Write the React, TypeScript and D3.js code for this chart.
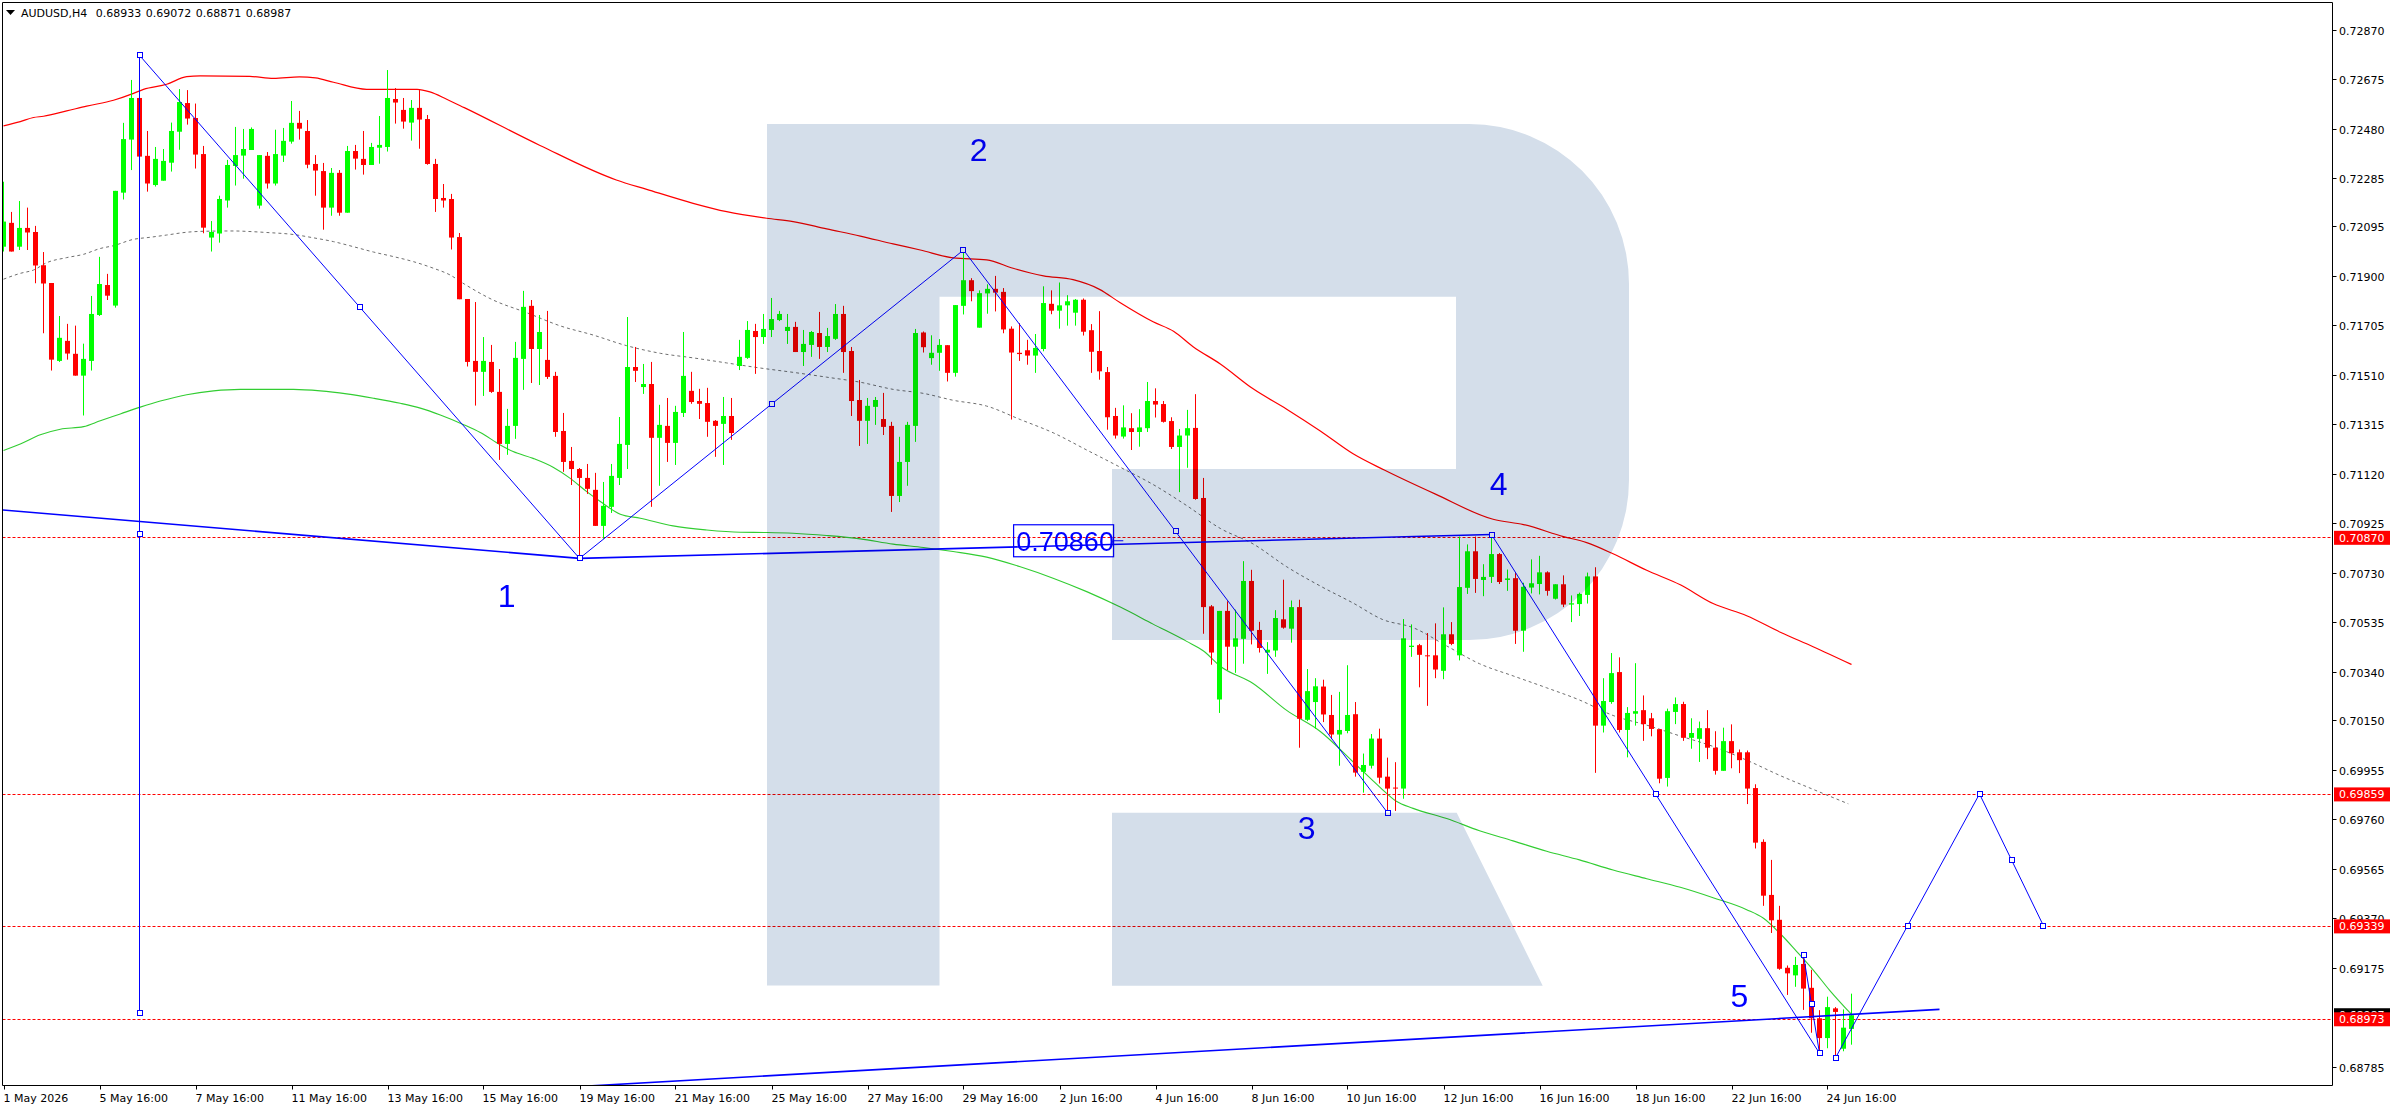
import React from "react";
import * as d3 from "d3";

// ---------- DATA ----------
const symbolTitle = "AUDUSD,H4";
const headerOHLC = ["0.68933", "0.69072", "0.68871", "0.68987"];
const currentPrice = 0.68987;

const opens = [
0.72015,0.72109,0.72015,0.72089,0.72073,0.71942,0.71872,0.71565,0.71644,0.71593,
0.71507,0.71565,0.71746,0.71864,0.71783,0.72228,0.72437,0.72601,0.72373,0.72258,
0.72275,0.72346,0.72468,0.72581,0.72522,0.72380,0.72051,0.72067,0.72197,0.72333,
0.72374,0.72396,0.72177,0.72373,0.72264,0.72374,0.72429,0.72503,0.72471,0.72341,
0.72313,0.72169,0.72306,0.72149,0.72392,0.72361,0.72337,0.72405,0.72408,0.72597,
0.72554,0.72504,0.72562,0.72518,0.72341,0.72207,0.72203,0.72053,0.71809,0.71565,
0.71522,0.71561,0.71443,0.71238,0.71309,0.71573,0.71782,0.71612,0.71569,0.71506,
0.71289,0.71171,0.71139,0.71104,0.71057,0.70915,0.70990,0.71104,0.71234,0.71541,
0.71462,0.71474,0.71262,0.71309,0.71242,0.71360,0.71447,0.71407,0.71399,0.71329,
0.71317,0.71348,0.71545,0.71577,0.71683,0.71659,0.71687,0.71726,0.71683,0.71699,
0.71600,0.71628,0.71675,0.71620,0.71652,0.71750,0.71604,0.71411,0.71329,0.71384,
0.71336,0.71309,0.71033,0.71167,0.71309,0.71677,0.71576,0.71597,0.71627,0.71518,
0.71782,0.71883,0.71696,0.71831,0.71849,0.71837,0.71692,0.71597,0.71607,0.71586,
0.71612,0.71790,0.71763,0.71784,0.71755,0.71806,0.71686,0.71604,0.71521,0.71348,
0.71267,0.71300,0.71285,0.71300,0.71407,0.71395,0.71328,0.71226,0.71271,0.71301,
0.71025,0.70598,0.70231,0.70580,0.70439,0.70470,0.70698,0.70505,0.70416,0.70424,
0.70547,0.70510,0.70595,0.70151,0.70221,0.70282,0.70170,0.70093,0.70107,0.70173,
0.69946,0.69970,0.70077,0.69927,0.69884,0.69880,0.70438,0.70445,0.70405,0.70405,
0.70344,0.70488,0.70405,0.70671,0.70815,0.70702,0.70714,0.70804,0.70702,0.70709,
0.70502,0.70672,0.70686,0.70732,0.70628,0.70685,0.70605,0.70607,0.70643,0.70716,
0.70128,0.70221,0.70339,0.70111,0.70175,0.70189,0.70157,0.70114,0.69922,0.70182,
0.70213,0.70080,0.70076,0.70118,0.70041,0.69950,0.70067,0.70023,0.70023,0.69882,
0.69670,0.69461,0.69363,0.69174,0.69144,0.69189,0.69095,0.68975,0.68897,0.69014,
0.68855,0.68933];

const highs = [
0.72271,0.72152,0.72195,0.72169,0.72097,0.71994,0.71872,0.71742,0.71711,0.71704,
0.71633,0.71821,0.71975,0.71908,0.72235,0.72503,0.72672,0.72601,0.72471,0.72408,
0.72400,0.72504,0.72636,0.72632,0.72579,0.72412,0.72116,0.72216,0.72357,0.72487,
0.72479,0.72485,0.72376,0.72388,0.72476,0.72483,0.72589,0.72550,0.72514,0.72376,
0.72345,0.72325,0.72317,0.72412,0.72416,0.72471,0.72424,0.72530,0.72711,0.72640,
0.72601,0.72593,0.72632,0.72534,0.72361,0.72262,0.72223,0.72069,0.71809,0.71797,
0.71659,0.71628,0.71533,0.71376,0.71640,0.71841,0.71805,0.71746,0.71762,0.71522,
0.71360,0.71226,0.71143,0.71159,0.71124,0.71088,0.71159,0.71344,0.71738,0.71620,
0.71553,0.71561,0.71392,0.71419,0.71388,0.71679,0.71522,0.71455,0.71459,0.71332,
0.71423,0.71419,0.71648,0.71722,0.71711,0.71750,0.71813,0.71762,0.71750,0.71719,
0.71687,0.71683,0.71758,0.71695,0.71789,0.71782,0.71620,0.71490,0.71419,0.71423,
0.71439,0.71325,0.71266,0.71325,0.71691,0.71681,0.71666,0.71651,0.71627,0.71785,
0.71998,0.71891,0.71843,0.71867,0.71900,0.71852,0.71701,0.71714,0.71648,0.71671,
0.71859,0.71843,0.71874,0.71824,0.71809,0.71811,0.71710,0.71761,0.71541,0.71380,
0.71390,0.71359,0.71375,0.71482,0.71457,0.71407,0.71343,0.71297,0.71372,0.71434,
0.71104,0.70603,0.70580,0.70618,0.70585,0.70776,0.70742,0.70537,0.70457,0.70583,
0.70703,0.70621,0.70624,0.70351,0.70315,0.70309,0.70249,0.70261,0.70366,0.70221,
0.70018,0.70095,0.70116,0.70002,0.69984,0.70548,0.70527,0.70450,0.70493,0.70531,
0.70594,0.70536,0.70873,0.70842,0.70873,0.70764,0.70881,0.70808,0.70743,0.70729,
0.70691,0.70783,0.70797,0.70736,0.70685,0.70720,0.70641,0.70652,0.70731,0.70752,
0.70315,0.70414,0.70397,0.70201,0.70374,0.70247,0.70178,0.70114,0.70195,0.70239,
0.70222,0.70157,0.70144,0.70189,0.70106,0.70120,0.70133,0.70034,0.70030,0.69897,
0.69680,0.69599,0.69418,0.69183,0.69217,0.69227,0.69166,0.69007,0.69060,0.69019,
0.69010,0.69072];

const lows = [
0.71996,0.71996,0.72002,0.72002,0.71871,0.71674,0.71527,0.71561,0.71570,0.71507,
0.71350,0.71527,0.71742,0.71805,0.71775,0.72201,0.72317,0.72370,0.72232,0.72252,
0.72275,0.72311,0.72397,0.72496,0.72323,0.72068,0.71996,0.72031,0.72169,0.72256,
0.72283,0.72396,0.72165,0.72244,0.72256,0.72349,0.72421,0.72437,0.72324,0.72216,
0.72082,0.72137,0.72137,0.72149,0.72319,0.72299,0.72337,0.72342,0.72390,0.72500,
0.72480,0.72433,0.72401,0.72338,0.72152,0.72169,0.72004,0.71808,0.71543,0.71389,
0.71427,0.71439,0.71175,0.71195,0.71258,0.71451,0.71478,0.71470,0.71494,0.71266,
0.71128,0.71076,0.70789,0.71041,0.70915,0.70864,0.70966,0.71076,0.71139,0.71482,
0.71435,0.70990,0.71073,0.71167,0.71155,0.71344,0.71396,0.71336,0.71266,0.71187,
0.71155,0.71254,0.71529,0.71573,0.71514,0.71632,0.71659,0.71722,0.71632,0.71600,
0.71545,0.71581,0.71573,0.71600,0.71648,0.71518,0.71348,0.71230,0.71238,0.71313,
0.71273,0.70970,0.71009,0.71073,0.71246,0.71598,0.71550,0.71526,0.71484,0.71503,
0.71748,0.71800,0.71696,0.71751,0.71760,0.71674,0.71334,0.71565,0.71550,0.71518,
0.71603,0.71749,0.71692,0.71704,0.71704,0.71665,0.71518,0.71491,0.71294,0.71259,
0.71259,0.71214,0.71227,0.71285,0.71342,0.71322,0.71218,0.71048,0.71144,0.71018,
0.70490,0.70368,0.70178,0.70347,0.70336,0.70372,0.70448,0.70416,0.70332,0.70399,
0.70510,0.70455,0.70041,0.70146,0.70116,0.70142,0.70075,0.69970,0.70098,0.69927,
0.69864,0.69959,0.69900,0.69792,0.69792,0.69840,0.70399,0.70279,0.70206,0.70315,
0.70311,0.70445,0.70385,0.70647,0.70651,0.70638,0.70690,0.70686,0.70659,0.70450,
0.70419,0.70649,0.70645,0.70640,0.70625,0.70595,0.70536,0.70560,0.70609,0.69942,
0.70101,0.70214,0.70101,0.70003,0.70128,0.70068,0.70086,0.69901,0.69888,0.70134,
0.70068,0.70037,0.69985,0.69996,0.69935,0.69950,0.69960,0.69941,0.69819,0.69644,
0.69418,0.69311,0.69166,0.69067,0.69099,0.69008,0.68918,0.68843,0.68857,0.68816,
0.68845,0.68871];

const closes = [
0.72114,0.71996,0.72089,0.72071,0.71941,0.71870,0.71570,0.71656,0.71594,0.71507,
0.71573,0.71750,0.71868,0.71822,0.72235,0.72439,0.72601,0.72370,0.72264,0.72361,
0.72353,0.72471,0.72585,0.72520,0.72378,0.72090,0.72073,0.72203,0.72337,0.72376,
0.72400,0.72479,0.72376,0.72264,0.72380,0.72432,0.72503,0.72480,0.72338,0.72315,
0.72169,0.72306,0.72149,0.72392,0.72362,0.72337,0.72408,0.72416,0.72601,0.72583,
0.72508,0.72562,0.72516,0.72341,0.72203,0.72197,0.72051,0.71808,0.71561,0.71522,
0.71565,0.71443,0.71238,0.71309,0.71577,0.71778,0.71612,0.71679,0.71502,0.71285,
0.71167,0.71139,0.71104,0.71061,0.70915,0.70994,0.71112,0.71238,0.71541,0.71526,
0.71474,0.71262,0.71313,0.71242,0.71364,0.71506,0.71403,0.71396,0.71325,0.71309,
0.71348,0.71281,0.71581,0.71687,0.71659,0.71691,0.71730,0.71750,0.71699,0.71600,
0.71632,0.71679,0.71620,0.71663,0.71750,0.71600,0.71407,0.71329,0.71388,0.71411,
0.71305,0.71033,0.71167,0.71313,0.71675,0.71619,0.71597,0.71628,0.71518,0.71785,
0.71883,0.71840,0.71832,0.71849,0.71834,0.71689,0.71598,0.71592,0.71586,0.71616,
0.71793,0.71763,0.71784,0.71800,0.71806,0.71680,0.71601,0.71524,0.71343,0.71271,
0.71303,0.71285,0.71303,0.71407,0.71393,0.71325,0.71226,0.71271,0.71300,0.71021,
0.70595,0.70416,0.70580,0.70439,0.70472,0.70698,0.70502,0.70434,0.70427,0.70552,
0.70514,0.70595,0.70155,0.70264,0.70283,0.70172,0.70093,0.70111,0.70170,0.69943,
0.69973,0.70077,0.69923,0.69880,0.69880,0.70472,0.70443,0.70407,0.70403,0.70349,
0.70488,0.70450,0.70674,0.70815,0.70706,0.70714,0.70804,0.70694,0.70708,0.70502,
0.70675,0.70689,0.70732,0.70659,0.70685,0.70605,0.70610,0.70647,0.70716,0.70128,
0.70225,0.70335,0.70111,0.70178,0.70185,0.70134,0.70115,0.69919,0.70185,0.70213,
0.70080,0.70099,0.70118,0.70041,0.69950,0.70067,0.70019,0.69992,0.69880,0.69667,
0.69458,0.69361,0.69170,0.69152,0.69185,0.69092,0.68975,0.68897,0.69019,0.69000,
0.68938,0.68987];

// moving averages: [bar index, price]
const redMA: [number, number][] = [
[0,0.72491],[2.1,0.72508],[3.75,0.72524],[5,0.72529],[7.9,0.72550],[10.4,0.72569],[13.75,0.72592],
[16.25,0.72619],[17.5,0.72635],[20.4,0.72655],[22.9,0.72685],[24.6,0.72688],[30.8,0.72686],
[33.75,0.72678],[37,0.72684],[39,0.72680],[41.25,0.72663],[45.4,0.72635],[48.3,0.72635],
[51.7,0.72635],[53.3,0.72625],[55.4,0.72596],[57.6,0.72563],[67,0.72415],[76.6,0.72278],
[80.4,0.72241],[86.2,0.72186],[90.4,0.72153],[95.4,0.72127],[98.7,0.72114],[102.9,0.72085],
[107.1,0.72057],[111.2,0.72026],[114.6,0.72002],[118.7,0.71971],[122.9,0.71963],[126.2,0.71930],
[130,0.71900],[133.7,0.71885],[137,0.71847],[139.6,0.71794],[143.7,0.71719],[146.3,0.71681],
[148.7,0.71621],[152.1,0.71553],[156.2,0.71455],[160.4,0.71375],[164.6,0.71289],[168.7,0.71199],
[172.6,0.71135],[179,0.71040],[186.2,0.70941],[190,0.70920],[195,0.70873],[197.9,0.70849],
[201.2,0.70805],[205.4,0.70740],[209.6,0.70683],[213.7,0.70609],[217.9,0.70561],[222.1,0.70496],
[226.2,0.70439],[231,0.70369]];

const greyMA: [number, number][] = [
[0,0.71887],[2.1,0.71910],[3.75,0.71923],[5.4,0.71952],[7.9,0.71972],[10,0.71985],[12.1,0.72008],
[13.75,0.72019],[16.25,0.72044],[18.3,0.72052],[20.4,0.72061],[22.9,0.72072],[25.4,0.72076],
[28.75,0.72077],[31.25,0.72074],[32.9,0.72071],[36.25,0.72063],[38.75,0.72050],[41.25,0.72035],
[43.75,0.72015],[46.25,0.71994],[48.75,0.71976],[51.25,0.71956],[53.75,0.71930],[55.8,0.71904],
[57.6,0.71868],[61.2,0.71805],[65.4,0.71755],[69.6,0.71703],[73.7,0.71667],[77.9,0.71625],
[82.1,0.71595],[86.2,0.71577],[90.4,0.71557],[94.6,0.71537],[98.7,0.71520],[102.9,0.71501],
[107.1,0.71481],[111.2,0.71453],[115,0.71437],[118.7,0.71410],[122.9,0.71387],[127.1,0.71334],
[131.2,0.71282],[135.4,0.71214],[139.6,0.71146],[143.7,0.71078],[147.9,0.70995],[152.1,0.70905],
[156.2,0.70844],[160.4,0.70754],[164.6,0.70678],[168.7,0.70611],[172.4,0.70546],[176.2,0.70514],
[180.4,0.70442],[184.5,0.70372],[188.7,0.70324],[192.9,0.70277],[197,0.70229],[201.2,0.70168],
[205.4,0.70130],[209.6,0.70087],[213.7,0.70046],[217.9,0.69992],[222.1,0.69931],[226.2,0.69877],
[230.6,0.69820]];

const greenMA: [number, number][] = [
[0,0.71212],[2.1,0.71238],[4.6,0.71274],[7.1,0.71296],[10,0.71306],[12.1,0.71329],[14.6,0.71356],
[17.1,0.71383],[19.6,0.71407],[22.9,0.71432],[26.25,0.71447],[29.6,0.71453],[32.9,0.71453],
[36.25,0.71453],[39.6,0.71447],[42.9,0.71435],[46.25,0.71418],[49.6,0.71398],[52.1,0.71379],
[54.6,0.71352],[57.6,0.71313],[59.6,0.71283],[62.1,0.71234],[63.7,0.71208],[66.2,0.71181],
[68.7,0.71146],[70.8,0.71103],[72.9,0.71050],[74.6,0.71011],[77.1,0.70961],[79.6,0.70945],
[83.7,0.70915],[87.9,0.70899],[92.1,0.70890],[95.4,0.70889],[98.7,0.70886],[102.9,0.70877],
[107.1,0.70864],[111.2,0.70843],[115,0.70830],[118.7,0.70814],[122.9,0.70792],[127.1,0.70754],
[131.2,0.70709],[135.4,0.70656],[139.6,0.70595],[143.7,0.70528],[147.9,0.70460],[150,0.70422],
[152.1,0.70362],[156.2,0.70294],[160.4,0.70188],[164.6,0.70105],[168.7,0.69985],[172.1,0.69884],
[174.1,0.69830],[176.2,0.69802],[180.4,0.69762],[184.5,0.69714],[188.7,0.69674],[192.9,0.69633],
[197,0.69599],[201.2,0.69559],[205.4,0.69525],[209.6,0.69491],[213.7,0.69450],[217.9,0.69403],
[220,0.69369],[222.1,0.69308],[224.1,0.69240],[226.2,0.69166],[228.3,0.69084],[231,0.68990]];

// price axis labels (the 0.68980 one is hidden under the price tags in the reference)
const priceTicks = ["0.72870","0.72675","0.72480","0.72285","0.72095","0.71900","0.71705","0.71510",
"0.71315","0.71120","0.70925","0.70730","0.70535","0.70340","0.70150","0.69955","0.69760","0.69565",
"0.69370","0.69175","0.68785"];

// time axis labels (bar index, text)
const timeTickBars = [0,12,24,36,48,60,72,84,96,108,120,132,144,156,168,180,192,204,216,228];
const timeTickLabels = ["1 May 2026","5 May 16:00","7 May 16:00","11 May 16:00","13 May 16:00",
"15 May 16:00","19 May 16:00","21 May 16:00","25 May 16:00","27 May 16:00","29 May 16:00",
"2 Jun 16:00","4 Jun 16:00","8 Jun 16:00","10 Jun 16:00","12 Jun 16:00","16 Jun 16:00",
"18 Jun 16:00","22 Jun 16:00","24 Jun 16:00"];

// horizontal levels
const levels = [0.70870, 0.69859, 0.69339, 0.68973];

// wave lines (thin, selected, with anchor squares): [bar, price] pairs
const waveSegments: [number, number][][] = [
  [[17, 0.72769], [17, 0.68995]],
  [[17, 0.72769], [72, 0.70787]],
  [[72, 0.70787], [120, 0.72002]],
  [[120, 0.72002], [173, 0.69785]],
  [[186, 0.70881], [227, 0.68837]],
  [[225, 0.69223], [227, 0.68837]],
  [[229, 0.68819], [247, 0.69859]],
  [[247, 0.69859], [255, 0.69339]],
];
// thick trend lines
const trendSegments: [number, number][][] = [
  [[-1, 0.70980], [72, 0.70787]],
  [[72, 0.70787], [186, 0.70881]],
  [[40, 0.68649], [242, 0.69010]],
];

const waveLabels = [
  { t: "1", i: 62.9, v: 0.70597 },
  { t: "2", i: 121.9, v: 0.72354 },
  { t: "3", i: 162.9, v: 0.69681 },
  { t: "4", i: 186.9, v: 0.71037 },
  { t: "5", i: 217.0, v: 0.69019 },
];
const priceTextLabel = { t: "0.70860", i: 126.6, v: 0.70817 };

// ---------- CHART ----------
const W = 2396;
const H = 1110;
const PL = 2.5, PT = 2.5, PR = 2332.5, PB = 1085.5;
const FONT = "'DejaVu Sans', Verdana, sans-serif";
const ARIAL = "'Liberation Sans', Arial, sans-serif";

export default function App() {
  const x = d3.scaleLinear().domain([0, 100]).range([3.5, 803.5]);
  const y = d3.scaleLinear().domain([0.68785, 0.72870]).range([1066.5, 29.7]);

  const maLine = d3
    .line<[number, number]>()
    .x((d) => x(d[0]))
    .y((d) => y(d[1]))
    .curve(d3.curveMonotoneX);

  const fmt = d3.format(".5f");

  // Stylised "R" watermark (decoration), local geometry
  const rx = 767, ry = 124;
  const rPath =
    "M0,0 H702 A160,160 0 0 1 862,160 V356 A160,160 0 0 1 702,516 H345 V345 H689 V172.7 H172.5 V861.5 H0 Z " +
    "M345,688.7 H689.7 L775.7,861.7 H345 Z";

  const blue = "#0000ff";

  return (
    <svg
      width={W}
      height={H}
      viewBox={`0 0 ${W} ${H}`}
      style={{ position: "absolute", left: 0, top: 0, background: "#ffffff" }}
    >
      <defs>
        <clipPath id="plotClip">
          <rect x={3} y={3} width={PR - 3.5} height={PB - 3.5} />
        </clipPath>
      </defs>
      <rect x={0} y={0} width={W} height={H} fill="#ffffff" />

      <g clipPath="url(#plotClip)">
        {levels.map((lv, i) => (
          <line
            key={"lv" + i}
            x1={PL}
            x2={PR}
            y1={Math.round(y(lv)) + 0.5}
            y2={Math.round(y(lv)) + 0.5}
            stroke="#ff0000"
            strokeWidth={1}
            strokeDasharray="3,2"
          />
        ))}

        <path d={maLine(greenMA) || ""} fill="none" stroke="#32cd32" strokeWidth={1.1} />
        <path d={maLine(greyMA) || ""} fill="none" stroke="#6e6e6e" strokeWidth={1} strokeDasharray="3,3" />
        <path d={maLine(redMA) || ""} fill="none" stroke="#ff0000" strokeWidth={1.2} />

        {opens.map((o, i) => {
          const c = closes[i];
          const up = c >= o;
          const col = up ? "#00ff00" : "#ff0000";
          const cx = x(i);
          const yTop = y(Math.max(o, c));
          const yBot = y(Math.min(o, c));
          return (
            <g key={"c" + i}>
              <line x1={cx} x2={cx} y1={y(highs[i])} y2={y(lows[i])} stroke={col} strokeWidth={1} />
              <rect x={cx - 2.5} y={yTop} width={5} height={Math.max(1, yBot - yTop)} fill={col} />
            </g>
          );
        })}

        {trendSegments.map((s, i) => (
          <line
            key={"tr" + i}
            x1={x(s[0][0])}
            y1={y(s[0][1])}
            x2={x(s[1][0])}
            y2={y(s[1][1])}
            stroke={blue}
            strokeWidth={1.6}
          />
        ))}

        {waveSegments.map((s, i) => (
          <line
            key={"wv" + i}
            x1={x(s[0][0])}
            y1={y(s[0][1])}
            x2={x(s[1][0])}
            y2={y(s[1][1])}
            stroke={blue}
            strokeWidth={1}
          />
        ))}
        {waveSegments.map((s, i) => {
          const pts = [
            [x(s[0][0]), y(s[0][1])],
            [(x(s[0][0]) + x(s[1][0])) / 2, (y(s[0][1]) + y(s[1][1])) / 2],
            [x(s[1][0]), y(s[1][1])],
          ];
          return (
            <g key={"sq" + i}>
              {pts.map((p, j) => (
                <rect
                  key={j}
                  x={Math.round(p[0]) - 2.5}
                  y={Math.round(p[1]) - 2.5}
                  width={5}
                  height={5}
                  fill="#ffffff"
                  stroke={blue}
                  strokeWidth={1}
                />
              ))}
            </g>
          );
        })}

        {waveLabels.map((l, i) => (
          <text
            key={"wl" + i}
            x={x(l.i)}
            y={y(l.v)}
            fill={blue}
            fontFamily={ARIAL}
            fontSize={32}
            textAnchor="middle"
          >
            {l.t}
          </text>
        ))}

        <g>
          <rect
            x={x(priceTextLabel.i) - 2.7}
            y={y(priceTextLabel.v) - 26}
            width={100}
            height={32}
            fill="none"
            stroke={blue}
            strokeWidth={1.2}
          />
          <text
            x={x(priceTextLabel.i)}
            y={y(priceTextLabel.v)}
            fill={blue}
            fontFamily={ARIAL}
            fontSize={27}
          >
            {priceTextLabel.t}
          </text>
          <line
            x1={x(priceTextLabel.i) + 97.3}
            x2={x(priceTextLabel.i) + 107}
            y1={y(priceTextLabel.v) - 10}
            y2={y(priceTextLabel.v) - 10}
            stroke={blue}
            strokeWidth={1}
          />
        </g>

        <path
          d={rPath}
          transform={`translate(${rx},${ry})`}
          fill="rgb(212,222,234)"
          style={{ mixBlendMode: "multiply" }}
        />
      </g>

      <line x1={PL} x2={PR} y1={PT} y2={PT} stroke="#000" strokeWidth={1} />
      <line x1={PL} x2={PL} y1={PT} y2={PB} stroke="#000" strokeWidth={1} />
      <line x1={PL} x2={PR} y1={PB} y2={PB} stroke="#000" strokeWidth={1} />
      <line x1={PR} x2={PR} y1={PT} y2={PB} stroke="#000" strokeWidth={1} />

      <path d="M6,10 L15,10 L10.5,15 Z" fill="#000" />
      <text y={17} fontFamily={FONT} fontSize={11} fill="#000">
        <tspan x={21}>{symbolTitle}</tspan>
        {headerOHLC.map((v, i) => (
          <tspan key={i} x={95.7 + i * 50}>
            {v}
          </tspan>
        ))}
      </text>

      {priceTicks.map((t, i) => {
        const yy = Math.round(y(+t)) + 0.5;
        return (
          <g key={"pt" + i}>
            <line x1={PR} x2={PR + 4} y1={yy} y2={yy} stroke="#000" strokeWidth={1} />
            <text x={2339} y={yy + 4} fontFamily={FONT} fontSize={11} fill="#000">
              {t}
            </text>
          </g>
        );
      })}

      <g>
        <rect x={2334} y={y(currentPrice) - 7} width={56} height={14} fill="#000" />
        <text x={2339} y={y(currentPrice) + 4} fontFamily={FONT} fontSize={11} fill="#fff">
          {fmt(currentPrice)}
        </text>
      </g>
      {levels.map((lv, i) => (
        <g key={"lt" + i}>
          <rect x={2334} y={y(lv) - 6.5} width={56} height={14} fill="#ff0000" />
          <text x={2339} y={y(lv) + 4.5} fontFamily={FONT} fontSize={11} fill="#fff">
            {fmt(lv)}
          </text>
        </g>
      ))}

      {timeTickBars.map((b, i) => {
        const xx = Math.round(x(b)) + 0.5;
        return (
          <g key={"tt" + i}>
            <line x1={xx} x2={xx} y1={PB} y2={PB + 4} stroke="#000" strokeWidth={1} />
            <text x={xx - 1} y={1102} fontFamily={FONT} fontSize={11} fill="#000">
              {timeTickLabels[i]}
            </text>
          </g>
        );
      })}
    </svg>
  );
}
